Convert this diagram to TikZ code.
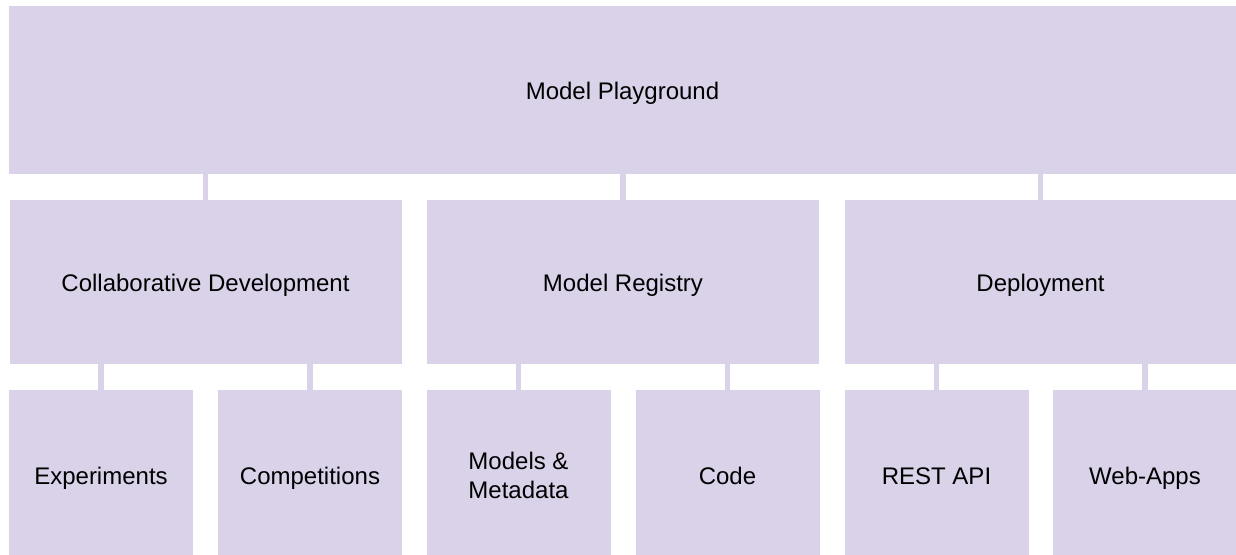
\documentclass[tikz,border=0pt]{standalone}
\usepackage{fontspec}
\setmainfont{Liberation Sans}
\usetikzlibrary{positioning, calc}
\definecolor{boxlav}{HTML}{D9D2E9}

\begin{document}
\begin{tikzpicture}[x=0.5pt, y=-0.5pt,
    box/.style={rectangle, fill=boxlav, inner sep=0pt, outer sep=0pt, text=black, align=center, font=\fontsize{12}{14.5}\selectfont},
    oneline/.style={text height=10.8pt, text depth=1.2pt},
    topbox/.style={box, oneline, minimum width=613.5pt, minimum height=84pt},
    midbox/.style={box, oneline, minimum width=196pt, minimum height=82pt},
    leafbox/.style={box, minimum width=92pt, minimum height=85pt},
    link/.style={draw=boxlav, line width=2.8pt}
]
\useasboundingbox (0,0) rectangle (1236,554);

% Root
\node[topbox] (play) at (622.5,90) {Model Playground};

% Second level
\node[midbox] (collab) at (205.5,282) {Collaborative Development};
\node[midbox] (registry) at (623,282) {Model Registry};
\node[midbox] (deploy) at (1040.5,282) {Deployment};

% Leaves
\node[leafbox, oneline] (exper) at (101,475) {Experiments};
\node[leafbox, oneline] (compet) at (310,475) {Competitions};
\node[leafbox] (models) at (518.5,475) {Models \&\\Metadata};
\node[leafbox, oneline] (code) at (727.5,475) {Code};
\node[leafbox, oneline] (rest) at (936.5,475) {REST API};
\node[leafbox, oneline] (webapps) at (1145,475) {Web-Apps};

% Links
\foreach \child in {collab, registry, deploy}
    \draw[link] (play.south -| \child.north) -- (\child.north);
\foreach \child in {exper, compet}
    \draw[link] (collab.south -| \child.north) -- (\child.north);
\foreach \child in {models, code}
    \draw[link] (registry.south -| \child.north) -- (\child.north);
\foreach \child in {rest, webapps}
    \draw[link] (deploy.south -| \child.north) -- (\child.north);
\end{tikzpicture}
\end{document}
